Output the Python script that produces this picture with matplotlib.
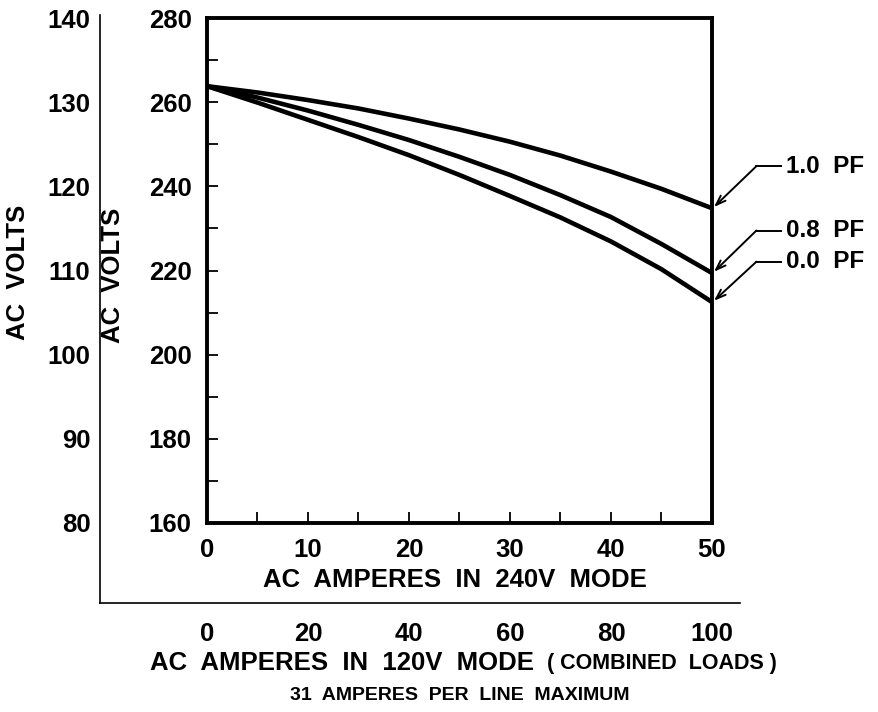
import matplotlib.pyplot as plt
import numpy as np

plt.rcParams['font.family'] = ['Liberation Sans', 'DejaVu Sans']
plt.rcParams['font.weight'] = 'bold'

# load current in 240V mode (amps) and output voltage per power factor
amps_240 = [0, 5, 10, 15, 20, 25, 30, 35, 40, 45, 50]
volts_pf10 = [263.8, 262.3, 260.5, 258.5, 256.1, 253.5, 250.6, 247.3, 243.5, 239.4, 234.8]
volts_pf08 = [263.8, 261.1, 258.0, 254.6, 251.0, 247.0, 242.7, 237.9, 232.7, 226.3, 219.4]
volts_pf00 = [263.8, 259.9, 255.8, 251.7, 247.4, 242.7, 237.7, 232.6, 226.9, 220.3, 212.5]
pf_labels = ["1.0  PF", "0.8  PF", "0.0  PF"]

yticks_240 = [160, 180, 200, 220, 240, 260, 280]
yticks_120 = [80, 90, 100, 110, 120, 130, 140]
xticks_240 = [0, 10, 20, 30, 40, 50]
xticks_120 = [0, 20, 40, 60, 80, 100]

FS = 18.5
W, H = 879, 712
fig = plt.figure(figsize=(8.79, 7.12), dpi=100)

# outer axes (120V scales): left spine at x=100, bottom spine at y=603
ox0, ox1, oy0, oy1 = 100, 740, 603, 15
outer = fig.add_axes([ox0 / W, 1 - oy0 / H, (ox1 - ox0) / W, (oy0 - oy1) / H])
outer.patch.set_visible(False)
for s in ['top', 'right']:
    outer.spines[s].set_visible(False)
for s in ['left', 'bottom']:
    outer.spines[s].set_linewidth(1.2)
# map pixels to values: 80 at y=523, 140 at y=18 ; 0 at x=207, 100 at x=712
vy = (523 - 18) / 60.0
vx = (712 - 207) / 100.0
outer.set_ylim(80 - (oy0 - 523) / vy, 140 + (18 - oy1) / vy)
outer.set_xlim(0 - (207 - ox0) / vx, 100 + (ox1 - 712) / vx)
outer.set_yticks(yticks_120)
outer.set_xticks(xticks_120)
outer.tick_params(axis='y', length=0, pad=7, labelsize=FS)
outer.tick_params(axis='x', length=0, pad=14, labelsize=FS)
outer.set_ylabel("AC  VOLTS", fontsize=FS, fontweight='bold')
outer.yaxis.set_label_coords((30 - ox0) / (ox1 - ox0), (oy0 - 272) / (oy0 - oy1))

# main axes (240V scales)
ax = fig.add_axes([207 / W, 1 - 523 / H, 505 / W, 505 / H])
ax.plot(amps_240, volts_pf10, color='black', lw=3.3, solid_capstyle='butt')
ax.plot(amps_240, volts_pf08, color='black', lw=3.3, solid_capstyle='butt')
ax.plot(amps_240, volts_pf00, color='black', lw=3.3, solid_capstyle='butt')
ax.set_xlim(0, 50)
ax.set_ylim(160, 280)
ax.set_xticks(xticks_240)
ax.set_yticks(yticks_240)
ax.set_xticks(np.arange(0, 51, 5), minor=True)
ax.set_yticks(np.arange(160, 281, 10), minor=True)
ax.tick_params(which='both', direction='in', length=8, width=1.3,
               top=False, right=False)
ax.tick_params(axis='y', pad=11, labelsize=FS)
ax.tick_params(axis='x', pad=11, labelsize=FS)
for s in ax.spines.values():
    s.set_linewidth(2.8)
ax.set_ylabel("AC  VOLTS", fontsize=FS, fontweight='bold')
ax.yaxis.set_label_coords((125 - 207) / 505, 0.49)
ax.text(0.49, (523 - 580) / 505, "AC  AMPERES  IN  240V  MODE", transform=ax.transAxes,
        ha='center', va='center', fontsize=FS, fontweight='bold')

# power factor callouts
ends = [volts_pf10[-1], volts_pf08[-1], volts_pf00[-1]]
label_y = [244.8, 229.5, 222.1]
for lab, yend, ly in zip(pf_labels, ends, label_y):
    cx = 54.4
    ax.annotate('', xy=(amps_240[-1] + 0.2, yend + 0.3), xytext=(cx, ly),
                arrowprops=dict(arrowstyle='->,head_length=0.7,head_width=0.25',
                                lw=1.4, color='black', shrinkA=0, shrinkB=0),
                annotation_clip=False)
    ax.plot([cx, 56.8], [ly, ly], color='black', lw=1.4, clip_on=False)
    ax.text(57.3, ly, lab, ha='left', va='center', fontsize=17.5, fontweight='bold',
            clip_on=False)

fig.text(150 / W, 1 - 663 / H, "AC  AMPERES  IN  120V  MODE", ha='left', va='center',
         fontsize=FS, fontweight='bold')
fig.text(777 / W, 1 - 663 / H, "( COMBINED  LOADS )", ha='right', va='center',
         fontsize=15.5, fontweight='bold')
fig.text(460 / W, 1 - 695 / H, "31  AMPERES  PER  LINE  MAXIMUM", ha='center', va='center',
         fontsize=14, fontweight='bold')

fig.savefig("out.png", dpi=100)
